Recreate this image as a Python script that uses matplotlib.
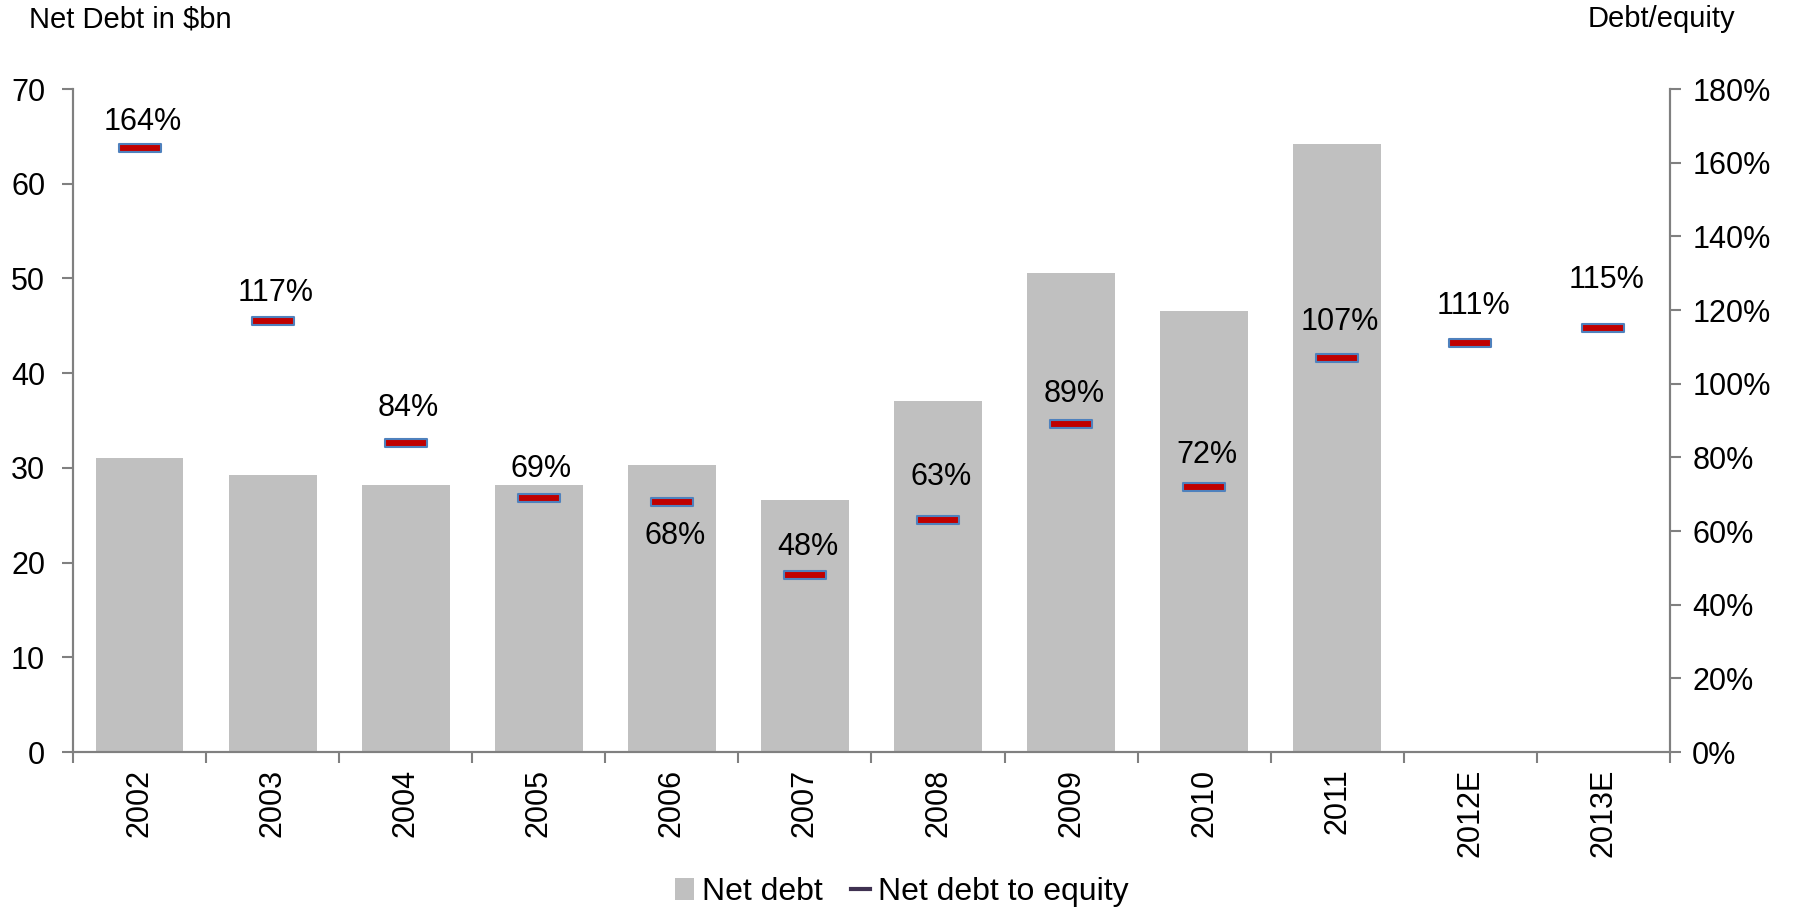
import matplotlib.pyplot as plt
from matplotlib.path import Path
from matplotlib.lines import Line2D
from matplotlib.patches import Patch
import numpy as np

plt.rcParams['font.family'] = ['Liberation Sans', 'DejaVu Sans']

years = ['2002', '2003', '2004', '2005', '2006', '2007', '2008', '2009', '2010', '2011', '2012E', '2013E']
net_debt = [31.0, 29.2, 28.2, 28.2, 30.3, 26.6, 37.1, 50.6, 46.6, 64.2, np.nan, np.nan]
debt_equity = [164, 117, 84, 69, 68, 48, 63, 89, 72, 107, 111, 115]
# vertical offset of each % label from its marker, in points (negative = below)
label_offsets = [19, 20, 25, 21, -25, 20, 31, 22, 23, 26, 27, 35]

grey = '#808080'
x = np.arange(len(years))

fig = plt.figure(figsize=(17.93, 9.11), dpi=100)
ax = fig.add_axes([0.0407, 0.1745, 0.8907, 0.7278])
ax2 = ax.twinx()

ax.bar(x, net_debt, width=0.66, color='#c0c0c0', zorder=1)
ax.set_xlim(-0.5, len(years) - 0.5)
ax.set_ylim(0, 70)
ax.set_yticks(range(0, 71, 10))
ax.set_xticks(x)
ax.set_xticklabels(years, rotation=90, fontsize=22)
ax.set_xticks(np.arange(-0.5, len(years), 1), minor=True)
ax.tick_params(axis='x', which='major', length=0, pad=12)
ax.tick_params(axis='x', which='minor', length=8, color=grey, width=1.5)
ax.tick_params(axis='y', labelsize=22, length=8, color=grey, width=1.5, pad=12)

# rectangle marker for the ratio
rect = Path([(-1, -0.2), (1, -0.2), (1, 0.2), (-1, 0.2), (-1, -0.2)],
            [Path.MOVETO, Path.LINETO, Path.LINETO, Path.LINETO, Path.CLOSEPOLY])
ax2.plot(x, debt_equity, linestyle='none', marker=rect, markersize=30,
         markerfacecolor='#c00000', markeredgecolor='#4f81bd', markeredgewidth=1.5, zorder=3)
for xi, v, off in zip(x, debt_equity, label_offsets):
    ax2.annotate(f'{v}%', (xi, v), xytext=(2, off), textcoords='offset points',
                 ha='center', va='center', fontsize=22)
ax2.set_ylim(0, 180)
ax2.set_yticks(range(0, 181, 20))
ax2.set_yticklabels([f'{t}%' for t in range(0, 181, 20)])
ax2.tick_params(axis='y', labelsize=22, length=8, color=grey, width=1.5, pad=8)

for a in (ax, ax2):
    a.spines['top'].set_visible(False)
    for s in ('left', 'right', 'bottom'):
        a.spines[s].set_color(grey)
        a.spines[s].set_linewidth(1.5)

fig.text(0.016, 0.979, 'Net Debt in $bn', fontsize=21, ha='left', va='center')
fig.text(0.968, 0.979, 'Debt/equity', fontsize=21, ha='right', va='center')

handles = [Patch(facecolor='#c0c0c0', label='Net debt'),
           Line2D([0], [0], color='#3f3151', linewidth=3, label='Net debt to equity')]
fig.legend(handles=handles, loc='center', bbox_to_anchor=(0.503, 0.021), ncol=2, frameon=False,
           fontsize=23, handlelength=0.6, handletextpad=0.25, columnspacing=0.9)

fig.savefig('out.png', dpi=100)
